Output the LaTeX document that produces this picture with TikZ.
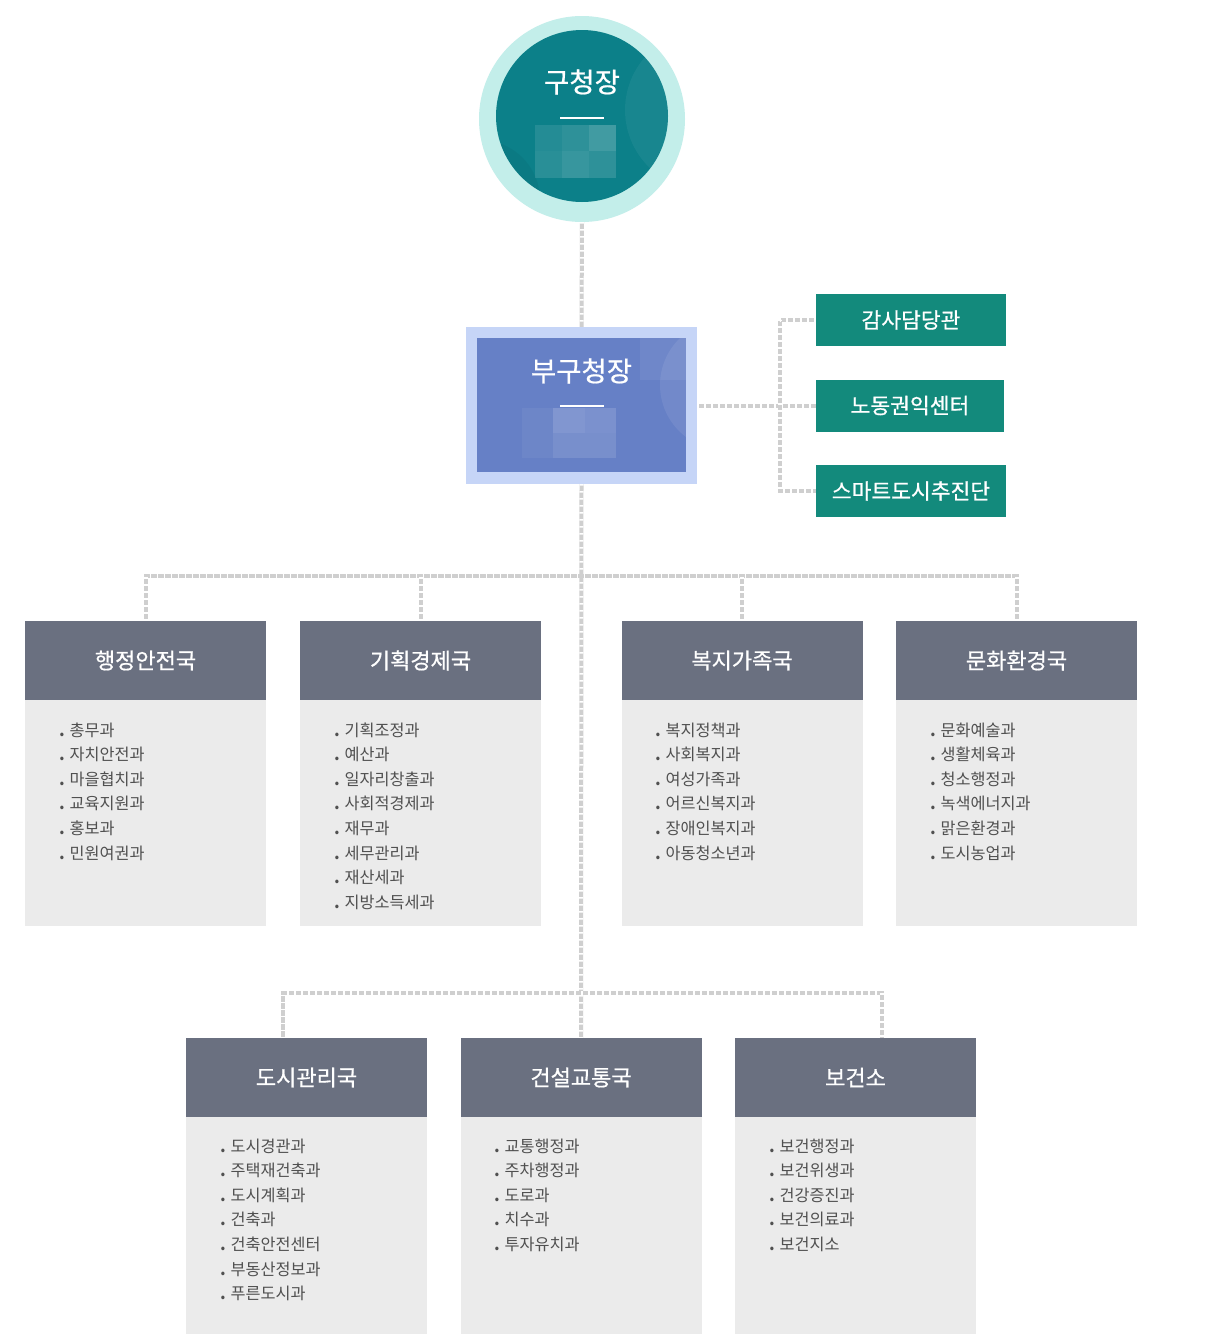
\documentclass[tikz,border=0pt]{standalone}
\usepackage{fontspec}
\newfontfamily\kr{Noto Sans CJK KR}
\newfontfamily\krm{Noto Sans CJK KR}[FakeBold=0.7]
\usetikzlibrary{calc}
\definecolor{ringc}{HTML}{C3EEEA}
\definecolor{tealc}{HTML}{0C8089}
\definecolor{boxteal}{HTML}{138A7C}
\definecolor{bluein}{HTML}{6680C6}
\definecolor{blueout}{HTML}{C6D5F7}
\definecolor{hdrc}{HTML}{6A7080}
\definecolor{bodyc}{HTML}{EBEBEB}
\definecolor{listc}{HTML}{505050}
\definecolor{connc}{HTML}{CFCFCF}
\tikzset{
  conn/.style={draw=connc, line width=4pt,
    postaction={draw=white, line width=4pt, dash pattern=on 1.5pt off 5.5pt}},
  hdr/.style={fill=hdrc, text=white, minimum width=241pt, minimum height=79pt,
    inner sep=0pt, font=\krm\fontsize{22}{25}\selectfont},
  bodybox/.style={fill=bodyc, minimum width=241pt, inner sep=0pt, anchor=north west},
  item/.style={anchor=west, inner sep=0pt, text=listc, font=\kr\fontsize{16.3}{18}\selectfont},
  side/.style={fill=boxteal, text=white, minimum height=52pt, inner sep=0pt,
    font=\krm\fontsize{21.5}{24}\selectfont},
  bigtitle/.style={text=white, inner sep=0pt, font=\krm\fontsize{27.5}{30}\selectfont}
}
\begin{document}
\begin{tikzpicture}[x=1pt,y=1pt]
\useasboundingbox (0,0) rectangle (1208,-1334);
\fill[white] (0,0) rectangle (1208,-1334);

\coordinate (j1) at (582,-576);
\coordinate (j2) at (582,-993);
\coordinate (rj) at (780,-405);
\coordinate (d5) at (283,-1038);
\coordinate (d7) at (882,-1038);

% ---------------- top circle ----------------
\node[circle, fill=ringc, minimum size=206pt, inner sep=0pt] (gu) at (582,-119) {};
\node[circle, fill=tealc, minimum size=172pt, inner sep=0pt] (guin) at (582,-116) {};
\begin{scope}
  \clip (582,-116) circle (86);
  \fill[white, opacity=0.05] (705,-110) circle (80);
  \fill[black, opacity=0.04] (480,-200) circle (60);
\end{scope}
\node[bigtitle] (gut) at (582,-82) {구청장};
\draw[white, line width=1.6pt] (560,-118) -- (604,-118);
\fill[white, opacity=0.10] (535,-125) rectangle (562,-151);
\fill[white, opacity=0.14] (562,-125) rectangle (589,-151);
\fill[white, opacity=0.22] (589,-125) rectangle (616,-151);
\fill[white, opacity=0.12] (535,-151) rectangle (562,-178);
\fill[white, opacity=0.18] (562,-151) rectangle (589,-178);
\fill[white, opacity=0.14] (589,-151) rectangle (616,-178);

% ---------------- deputy box ----------------
\node[fill=blueout, minimum width=231pt, minimum height=157pt, inner sep=0pt] (bu) at (581.5,-405.5) {};
\node[fill=bluein, minimum width=209pt, minimum height=134pt, inner sep=0pt] (buin) at (581.5,-405) {};
\begin{scope}
  \clip (477,-338) rectangle (686,-472);
  \fill[white, opacity=0.06] (640,-338) rectangle (686,-380);
  \fill[white, opacity=0.08] (725,-385) circle (65);
\end{scope}
\node[bigtitle] (but) at (581.5,-371) {부구청장};
\draw[white, line width=1.6pt] (560,-406) -- (604,-406);
\fill[white, opacity=0.05] (522,-408) rectangle (553,-433);
\fill[white, opacity=0.18] (553,-408) rectangle (585,-433);
\fill[white, opacity=0.14] (585,-408) rectangle (616,-433);
\fill[white, opacity=0.05] (522,-433) rectangle (553,-458);
\fill[white, opacity=0.12] (553,-433) rectangle (585,-458);
\fill[white, opacity=0.12] (585,-433) rectangle (616,-458);

% ---------------- side boxes ----------------
\node[side, minimum width=190pt] (a1) at (911,-320) {감사담당관};
\node[side, minimum width=188pt] (a2) at (910,-405.5) {노동권익센터};
\node[side, minimum width=190pt] (a3) at (911,-491) {스마트도시추진단};

% ---------------- bureau headers ----------------
\node[hdr] (h1) at (145.5,-660.5) {행정안전국};
\node[hdr] (h2) at (420.5,-660.5) {기획경제국};
\node[hdr] (h3) at (742,-660.5) {복지가족국};
\node[hdr] (h4) at (1016.5,-660.5) {문화환경국};
\node[hdr] (h5) at (306.5,-1077.5) {도시관리국};
\node[hdr] (h6) at (581,-1077.5) {건설교통국};
\node[hdr] (h7) at (855.5,-1077.5) {보건소};

\node[bodybox, minimum height=226pt] (b1) at (25,-700) {};
\node[bodybox, minimum height=226pt] (b2) at (300,-700) {};
\node[bodybox, minimum height=226pt] (b3) at (621.5,-700) {};
\node[bodybox, minimum height=226pt] (b4) at (896,-700) {};
\node[bodybox, minimum height=217pt] (b5) at (186,-1117) {};
\node[bodybox, minimum height=217pt] (b6) at (460.5,-1117) {};
\node[bodybox, minimum height=217pt] (b7) at (735,-1117) {};

% ---------------- connectors ----------------
\draw[conn] (gu.south) -- (bu.north);
\draw[conn] (bu.east) -- (a2.west);
\draw[conn] (a1.west) -| (rj) |- (a3.west);
\draw[conn] (bu.south) -- (h6.north);
\draw[conn] (h1.north) |- (j1) -| (h4.north);
\draw[conn] (h2.north) -- (h2.north |- j1);
\draw[conn] (h3.north) -- (h3.north |- j1);
\draw[conn] (d5) |- (j2) -| (d7);

% ---------------- lists ----------------
\newcommand{\bl}{\makebox[10.5pt][l]{\textbf{.}}}
\foreach [count=\i] \t in {총무과,자치안전과,마을협치과,교육지원과,홍보과,민원여권과}
  \node[item, name=l1-\i] at (59,{-730-24.6*(\i-1)}) {\bl\t};
\foreach [count=\i] \t in {기획조정과,예산과,일자리창출과,사회적경제과,재무과,세무관리과,재산세과,지방소득세과}
  \node[item, name=l2-\i] at (334,{-730-24.6*(\i-1)}) {\bl\t};
\foreach [count=\i] \t in {복지정책과,사회복지과,여성가족과,어르신복지과,장애인복지과,아동청소년과}
  \node[item, name=l3-\i] at (655,{-730-24.6*(\i-1)}) {\bl\t};
\foreach [count=\i] \t in {문화예술과,생활체육과,청소행정과,녹색에너지과,맑은환경과,도시농업과}
  \node[item, name=l4-\i] at (930,{-730-24.6*(\i-1)}) {\bl\t};
\foreach [count=\i] \t in {도시경관과,주택재건축과,도시계획과,건축과,건축안전센터,부동산정보과,푸른도시과}
  \node[item, name=l5-\i] at (220,{-1146-24.6*(\i-1)}) {\bl\t};
\foreach [count=\i] \t in {교통행정과,주차행정과,도로과,치수과,투자유치과}
  \node[item, name=l6-\i] at (494,{-1146-24.6*(\i-1)}) {\bl\t};
\foreach [count=\i] \t in {보건행정과,보건위생과,건강증진과,보건의료과,보건지소}
  \node[item, name=l7-\i] at (769,{-1146-24.6*(\i-1)}) {\bl\t};
\end{tikzpicture}
\end{document}
